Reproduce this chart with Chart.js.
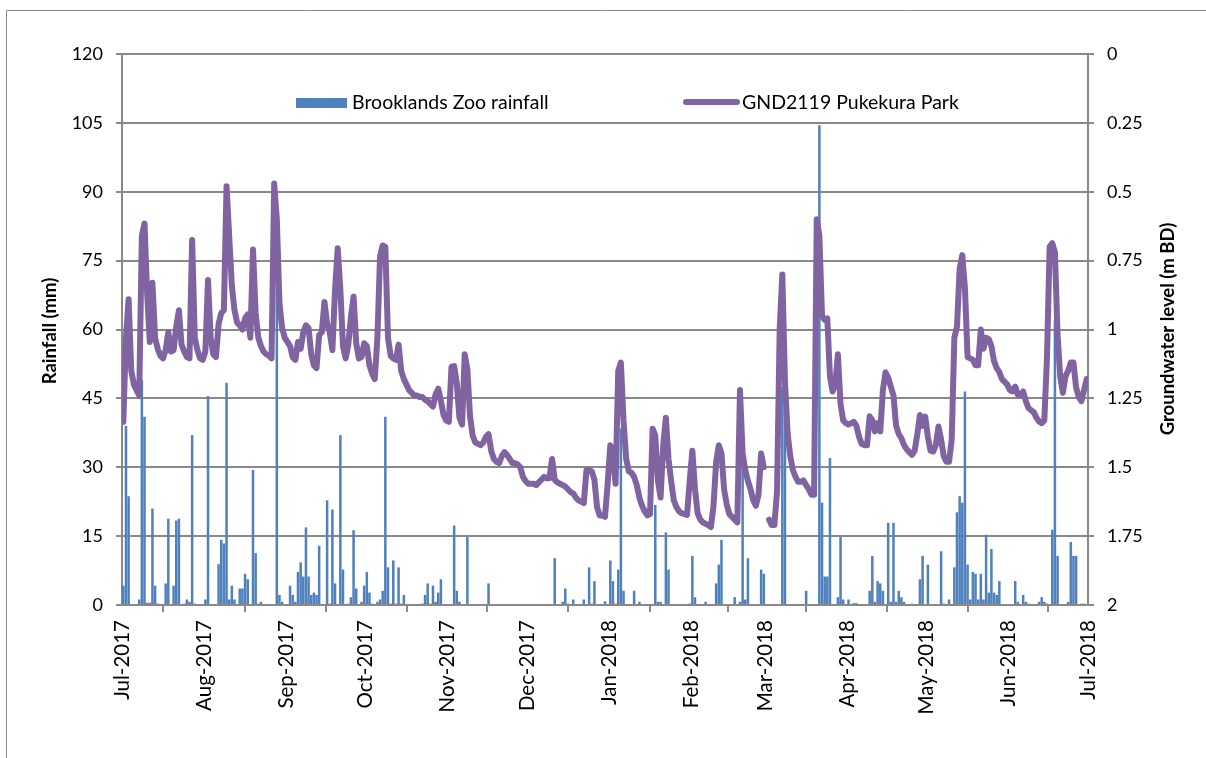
<!DOCTYPE html>
<html>
<head>
<meta charset="utf-8">
<script src="https://cdn.jsdelivr.net/npm/chart.js@4.4.1/dist/chart.umd.min.js"></script>
<style>
  html, body { margin: 0; padding: 0; background: #fff; }
  canvas { display: block; }
</style>
</head>
<body>
<canvas id="chart01" width="1206" height="758"></canvas>
<script>
// day index of each month start (0 = 1 Jul 2017)
const monthTicks = [0, 31, 62, 92, 123, 153, 184, 215, 243, 274, 304, 335, 365];
const monthLabels = ["Jul-2017", "Aug-2017", "Sep-2017", "Oct-2017", "Nov-2017", "Dec-2017",
	"Jan-2018", "Feb-2018", "Mar-2018", "Apr-2018", "May-2018", "Jun-2018", "Jul-2018"];
const levelTickLabels = ["0", "0.25", "0.5", "0.75", "1", "1.25", "1.5", "1.75", "2"];

const rainName = "Brooklands Zoo rainfall";
const levelName = "GND2119 Pukekura Park";

// daily rainfall (mm), 1 Jul 2017 - 30 Jun 2018
const rainfall = [
	4.2, 39, 23.7, 0, 0, 0, 1.2, 49, 41, 0.5, 0.5, 21, 4.2, 0.3, 0, 0, 4.7, 18.8, 0, 4.2, 18.4, 18.8, 0, 0.3, 1.2, 0.7, 37, 0.3, 0, 0, 0, // jul
	1.2, 45.5, 0, 0, 0, 8.9, 14.2, 13.4, 48.4, 1.2, 4.2, 1.2, 0, 3.6, 3.6, 6.8, 5.6, 0, 29.4, 11.3, 0.3, 0.7, 0, 0, 0, 0, 0, 72, 2.2, 0.7, 0, // aug
	0, 4.2, 2.2, 0.7, 7.2, 9.3, 6.2, 16.9, 6.2, 2.2, 2.7, 2.2, 12.9, 0, 0, 22.8, 0.3, 20.8, 4.7, 0, 37, 7.7, 0, 0.3, 1.7, 16.3, 3.6, 0, 0.7, 4.2, // sep
	7.2, 2.7, 0.3, 0, 0.7, 1.2, 3.1, 41, 8.2, 0.3, 9.7, 0.3, 8.2, 0.3, 2.2, 0, 0, 0, 0, 0, 0, 0.3, 2.2, 4.7, 0.3, 4.2, 0.7, 2.7, 5.6, 0, 0, // oct
	0, 0, 17.3, 3.1, 0.7, 0, 0, 14.8, 0, 0, 0, 0, 0, 0, 0, 4.7, 0, 0, 0, 0, 0, 0, 0, 0, 0, 0, 0, 0, 0, 0, // nov
	0, 0, 0, 0, 0, 0, 0, 0, 0, 0, 10.2, 0, 0, 0.7, 3.6, 0.3, 0, 1.2, 0, 0, 0, 1.2, 0, 8.2, 0.3, 5.2, 0, 0, 0, 0.8, 0, // dec
	9.7, 5.2, 0.3, 7.7, 38.5, 3.1, 0, 0, 0, 3.1, 0, 0.7, 0, 0, 0, 0, 0, 21.8, 0.7, 0.7, 0, 15.8, 7.7, 0, 0, 0, 0, 0, 0, 0, 0.3, // jan
	10.7, 1.7, 0, 0, 0, 0.7, 0, 0, 0, 4.7, 8.8, 14.2, 0, 0, 0, 0, 1.7, 0, 0.7, 31, 1.2, 10.2, 0, 0, 0, 0, 7.7, 6.8, // feb
	0, 0, 0, 0, 0, 0, 47.5, 42, 0, 0, 0, 0, 0, 0, 0, 3.1, 0, 0, 0, 0, 104.5, 22.3, 6.2, 6.2, 32, 0, 0, 1.7, 14.8, 1.2, 0, // mar
	1.2, 0, 0.4, 0.4, 0, 0, 0, 0, 3.1, 10.7, 0.7, 5.2, 4.7, 3.1, 0, 17.9, 0.7, 17.9, 0.7, 3.1, 1.7, 0.7, 0, 0, 0.3, 0, 0, 5.6, 10.7, 0, // apr
	8.8, 0, 0, 0, 0, 11.7, 0.3, 0, 1.2, 0, 8.2, 20.2, 23.7, 22.3, 46.5, 8.8, 1.2, 7.2, 6.8, 1.2, 6.8, 1.2, 15.3, 2.7, 12.2, 2.7, 2.2, 5.2, 0, 0, 0, // may
	0, 0, 5.2, 0.7, 0, 2.2, 0.7, 0.3, 0, 0, 0, 0.7, 1.7, 0.7, 0.3, 0, 16.4, 62, 10.7, 0, 0, 0, 0.7, 13.7, 10.7, 10.7, 0, 0.3, 0.3, 0 // jun
];

// daily groundwater level (m below datum), null = no reading
const groundwater = [
	1.335, 1.03, 0.89, 1.15, 1.2, 1.22, 1.24, 0.66, 0.615, 0.87, 1.045, 0.83, 1.03, 1.07, 1.095, 1.105, 1.075, 1.01, 1.08, 1.075, 0.99, 0.93, 1.055, 1.08, 1.1, 1.105, 0.675, 1.03, 1.075, 1.105, 1.11, // jul
	1.08, 0.82, 1.03, 1.09, 1.1, 0.98, 0.94, 0.93, 0.48, 0.66, 0.84, 0.93, 0.975, 0.985, 1.0, 0.96, 0.945, 1.03, 0.71, 0.94, 1.03, 1.06, 1.08, 1.09, 1.095, 1.105, 0.47, 0.6, 0.905, 0.995, 1.03, // aug
	1.045, 1.06, 1.1, 1.11, 1.045, 1.07, 1.01, 0.985, 0.995, 1.09, 1.13, 1.14, 1.02, 1.01, 0.9, 0.98, 1.01, 1.075, 0.855, 0.705, 0.855, 1.06, 1.105, 1.055, 0.955, 0.88, 1.05, 1.105, 1.1, 1.05, // sep
	1.06, 1.13, 1.16, 1.18, 1.03, 0.735, 0.695, 0.7, 1.03, 1.095, 1.105, 1.11, 1.055, 1.15, 1.18, 1.2, 1.22, 1.23, 1.24, 1.24, 1.245, 1.245, 1.255, 1.26, 1.27, 1.28, 1.235, 1.215, 1.26, 1.31, 1.33, // oct
	1.335, 1.135, 1.133, 1.195, 1.32, 1.345, 1.09, 1.145, 1.315, 1.385, 1.41, 1.415, 1.42, 1.41, 1.39, 1.38, 1.44, 1.47, 1.48, 1.485, 1.46, 1.445, 1.455, 1.47, 1.485, 1.485, 1.49, 1.5, 1.535, 1.55, // nov
	1.56, 1.56, 1.56, 1.565, 1.555, 1.545, 1.535, 1.54, 1.54, 1.47, 1.545, 1.555, 1.56, 1.565, 1.57, 1.58, 1.59, 1.595, 1.61, 1.62, 1.625, 1.63, 1.51, 1.51, 1.515, 1.545, 1.645, 1.675, 1.675, 1.68, 1.56, // dec
	1.42, 1.46, 1.56, 1.15, 1.12, 1.33, 1.47, 1.515, 1.52, 1.535, 1.565, 1.61, 1.64, 1.66, 1.675, 1.67, 1.36, 1.385, 1.55, 1.61, 1.42, 1.32, 1.47, 1.55, 1.62, 1.645, 1.66, 1.667, 1.67, 1.673, 1.55, // jan
	1.44, 1.58, 1.667, 1.69, 1.7, 1.705, 1.71, 1.717, 1.64, 1.48, 1.42, 1.45, 1.58, 1.635, 1.67, 1.68, 1.69, 1.7, 1.22, 1.45, 1.51, 1.55, 1.58, 1.62, 1.64, 1.6, 1.45, 1.5, // feb
	null, 1.69, 1.71, 1.71, 1.59, 1.0, 0.8, 1.19, 1.377, 1.46, 1.51, 1.535, 1.553, 1.553, 1.548, 1.565, 1.58, 1.6, 1.6, 0.6, 0.66, 0.95, 0.965, 0.96, 1.17, 1.225, 1.2, 1.09, 1.27, 1.33, 1.34, // mar
	1.345, 1.34, 1.335, 1.35, 1.39, 1.415, 1.42, 1.42, 1.315, 1.33, 1.37, 1.34, 1.37, 1.22, 1.155, 1.175, 1.207, 1.24, 1.35, 1.38, 1.395, 1.42, 1.435, 1.445, 1.455, 1.44, 1.38, 1.31, 1.35, 1.316, // apr
	1.39, 1.44, 1.443, 1.42, 1.352, 1.4, 1.46, 1.48, 1.48, 1.4, 1.03, 0.99, 0.78, 0.73, 0.85, 1.1, 1.105, 1.11, 1.13, 1.13, 1.0, 1.07, 1.03, 1.035, 1.06, 1.115, 1.14, 1.155, 1.18, 1.19, 1.2, // may
	1.22, 1.225, 1.207, 1.237, 1.24, 1.225, 1.26, 1.285, 1.293, 1.3, 1.32, 1.334, 1.34, 1.33, 1.1, 0.7, 0.687, 0.72, 1.02, 1.17, 1.23, 1.17, 1.15, 1.12, 1.12, 1.21, 1.245, 1.26, 1.22, 1.18 // jun
];

const rainColor = "#4F81BD";
const levelColor = "#8064A2";
const gridColor = "#898989";
const fontFamily = "Lato, 'Liberation Sans', sans-serif";

// outer frame of the chart object (top and left edges only are visible)
const framePlugin = {
	id: "frame",
	beforeDraw(chart) {
		const ctx = chart.ctx;
		ctx.save();
		ctx.fillStyle = "#fff";
		ctx.fillRect(0, 0, chart.width, chart.height);
		ctx.strokeStyle = gridColor;
		ctx.lineWidth = 1;
		ctx.beginPath();
		ctx.moveTo(6.5, chart.height);
		ctx.lineTo(6.5, 10.5);
		ctx.lineTo(chart.width, 10.5);
		ctx.stroke();
		ctx.restore();
	},
};

// legend inside the plot area and the two axis titles
const overlayPlugin = {
	id: "overlay",
	afterDraw(chart) {
		const ctx = chart.ctx;
		ctx.save();
		ctx.fillStyle = rainColor;
		ctx.fillRect(296, 98, 51, 10);
		ctx.strokeStyle = levelColor;
		ctx.lineWidth = 6;
		ctx.lineCap = "round";
		ctx.beginPath();
		ctx.moveTo(686, 102);
		ctx.lineTo(737, 102);
		ctx.stroke();

		ctx.fillStyle = "#000";
		ctx.textBaseline = "middle";
		ctx.textAlign = "left";
		ctx.font = "19.5px " + fontFamily;
		ctx.fillText(rainName, 352, 103);
		ctx.fillText(levelName, 742, 103);

		ctx.font = "bold 18.5px " + fontFamily;
		ctx.textAlign = "center";
		[["Rainfall (mm)", 50, 331], ["Groundwater level (m BD)", 1168, 329]].forEach(([text, x, y]) => {
			ctx.save();
			ctx.translate(x, y);
			ctx.rotate(-Math.PI / 2);
			ctx.fillText(text, 0, 0);
			ctx.restore();
		});
		ctx.restore();
	},
};

const tickFont = { family: fontFamily, size: 18 };

const data = {
	datasets: [
		{
			type: "line",
			label: levelName,
			yAxisID: "y1",
			order: 0,
			data: groundwater.map((value, i) => ({ x: i + 0.5, y: value })),
			borderColor: levelColor,
			borderWidth: 6,
			borderJoinStyle: "round",
			borderCapStyle: "round",
			pointRadius: 0,
			tension: 0,
			spanGaps: false,
		},
		{
			type: "bar",
			label: rainName,
			yAxisID: "y",
			order: 1,
			data: rainfall.map((value, i) => ({ x: i + 0.5, y: value })),
			backgroundColor: rainColor,
			borderWidth: 0,
			barPercentage: 0.95,
			categoryPercentage: 1,
		},
	],
};

const options = {
	responsive: false,
	animation: false,
	events: [],
	devicePixelRatio: 1,
	layout: {
		padding: { left: 0, right: 0, top: 54, bottom: 0 },
	},
	plugins: {
		legend: { display: false },
		tooltip: { enabled: false },
	},
	scales: {
		x: {
			type: "linear",
			min: 0,
			max: 365,
			offset: false,
			afterBuildTicks: (scale) => {
				scale.ticks = monthTicks.map((value) => ({ value }));
			},
			afterFit: (scale) => {
				scale.height = 153;
			},
			ticks: {
				autoSkip: false,
				maxRotation: 90,
				minRotation: 90,
				padding: 8,
				color: "#000",
				font: { family: fontFamily, size: 20.5 },
				callback: (value) => monthLabels[monthTicks.indexOf(value)],
			},
			grid: {
				drawOnChartArea: false,
				tickLength: 7,
				color: gridColor,
				lineWidth: 2,
			},
			border: { color: gridColor, width: 2 },
		},
		y: {
			position: "left",
			min: 0,
			max: 120,
			afterFit: (scale) => {
				scale.width = 122;
			},
			ticks: {
				stepSize: 15,
				padding: 13,
				color: "#000",
				font: tickFont,
			},
			grid: {
				color: gridColor,
				lineWidth: 2,
				tickLength: 6,
			},
			border: { color: gridColor, width: 2 },
		},
		y1: {
			position: "right",
			reverse: true,
			min: 0,
			max: 2,
			afterFit: (scale) => {
				scale.width = 118;
			},
			ticks: {
				stepSize: 0.25,
				padding: 13,
				color: "#000",
				font: tickFont,
				callback: (value) => levelTickLabels[Math.round(value / 0.25)],
			},
			grid: {
				drawOnChartArea: false,
				color: gridColor,
				lineWidth: 2,
				tickLength: 6,
			},
			border: { color: gridColor, width: 2 },
		},
	},
};

new Chart(document.querySelector("#chart01"), {
	type: "bar",
	data,
	options,
	plugins: [framePlugin, overlayPlugin],
});
</script>
</body>
</html>
